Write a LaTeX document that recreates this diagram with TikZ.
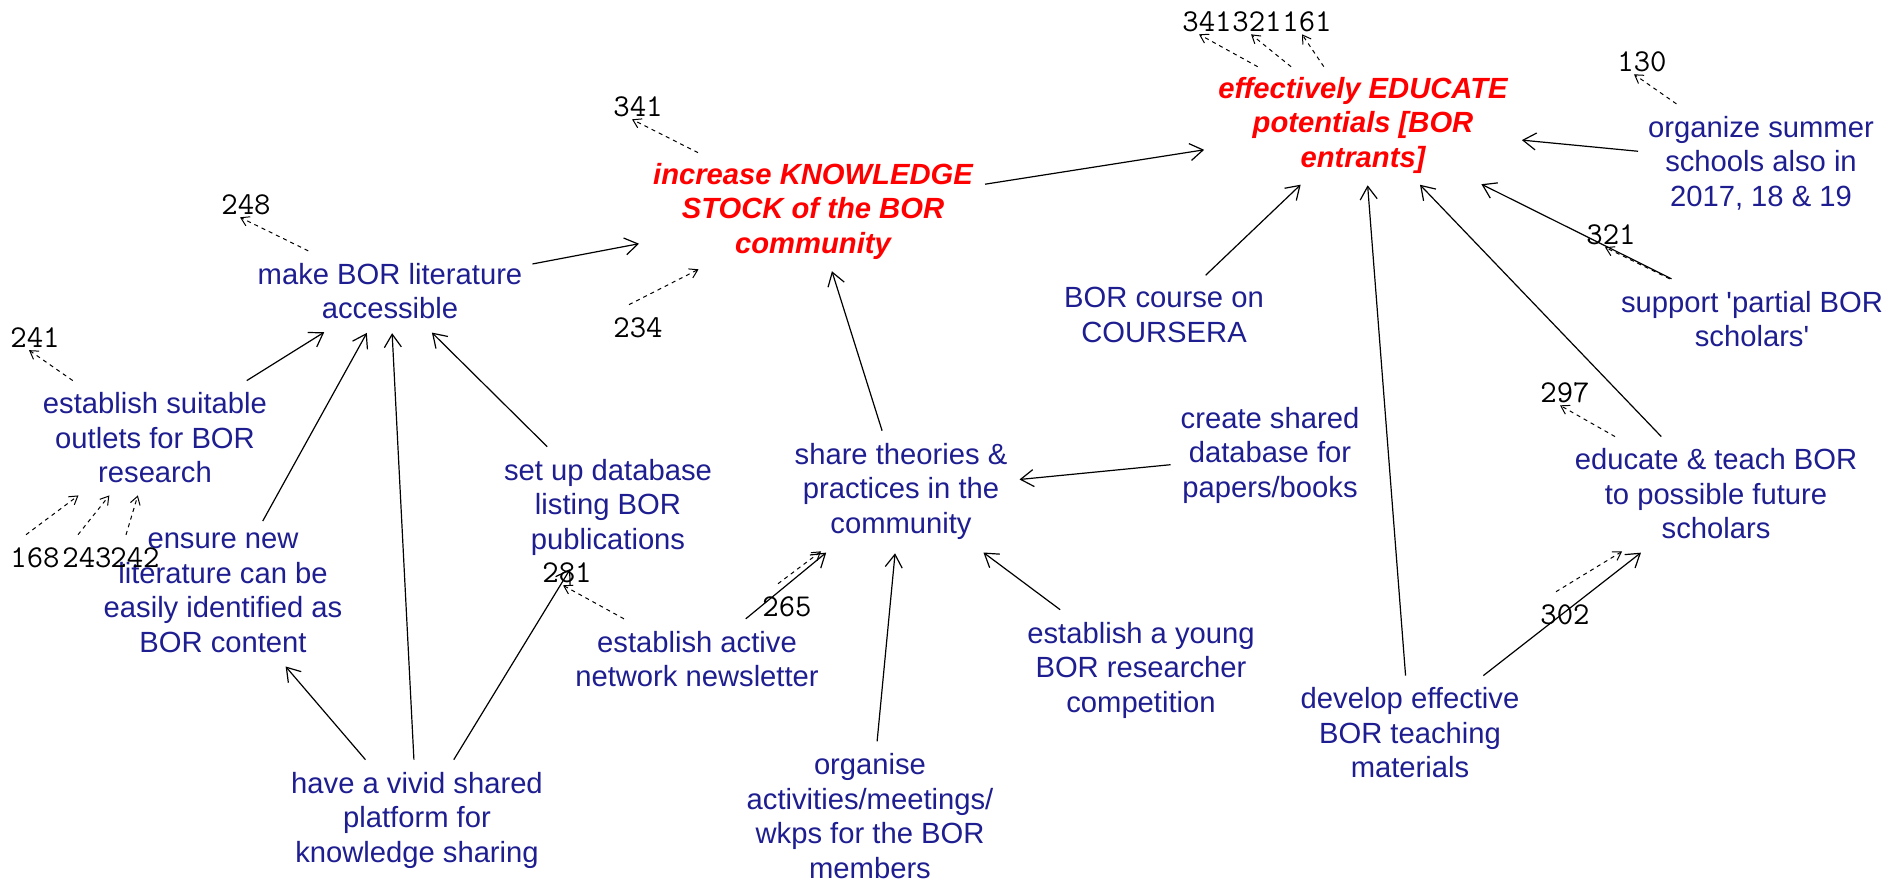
\documentclass[tikz,border=0pt]{standalone}
\usepackage{fontspec}
\setmainfont{Liberation Sans}
\usetikzlibrary{arrows.meta}
\definecolor{dblue}{RGB}{30,30,145}
\definecolor{cred}{RGB}{255,0,0}
\begin{document}
\begin{tikzpicture}[x=1pt,y=-1pt,
  txt/.style={align=center,text=dblue,font=\fontsize{29.2}{34.5}\selectfont,inner xsep=10pt,inner ysep=12pt},
  goal/.style={align=center,text=cred,font=\fontsize{29.2}{34.5}\selectfont\bfseries\itshape,inner xsep=12pt,inner ysep=10pt},
  num/.style={font=\ttfamily\fontsize{31.8}{32}\selectfont,inner sep=2pt,text=black},
  link/.style={-{Straight Barb[length=13pt,width=17pt]},line width=1.2pt,shorten >=2pt},
  dlink/.style={-{Straight Barb[length=8pt,width=10pt]},line width=1pt,dash pattern=on 4pt off 4pt}]
\useasboundingbox[fill=white] (0,0) rectangle (1891,884);

% concept nodes
\node[goal] (K) at (813,211) {increase KNOWLEDGE\\STOCK of the BOR\\community};
\node[goal] (E) at (1363,125) {effectively EDUCATE\\potentials [BOR\\entrants]};
\node[txt] (M) at (390,291) {make BOR literature\\accessible};
\node[txt] (S) at (155,438) {establish suitable\\outlets for BOR\\research};
\node[txt] (N) at (223,593) {ensure new\\literature can be\\easily identified as\\BOR content};
\node[txt] (V) at (417,820) {have a vivid shared\\platform for\\knowledge sharing};
\node[txt] (D) at (608,507) {set up database\\listing BOR\\publications};
\node[txt] (A) at (697,659) {establish active\\network newsletter};
\node[txt] (T) at (901,491) {share theories \&\\practices in the\\community};
\node[txt] (C) at (1270,455) {create shared\\database for\\papers/books};
\node[txt] (G) at (870,816) {organise\\activities/meetings/\\wkps for the BOR\\members};
\node[txt] (Y) at (1141,670) {establish a young\\BOR researcher\\competition};
\node[txt] (L) at (1410,733) {develop effective\\BOR teaching\\materials};
\node[txt] (H) at (1716,494) {educate \& teach BOR\\to possible future\\scholars};
\node[txt] (B) at (1164,315) {BOR course on\\COURSERA};
\node[txt] (O) at (1761,163) {organize summer\\schools also in\\2017, 18 \& 19};
\node[txt] (P) at (1752,319) {support \textquotesingle partial BOR\\scholars\textquotesingle};

% reference numbers
\node[num] (k341) at (638,107) {341};
\node[num] (k234) at (638,328) {234};
\node[num] (m248) at (246,205) {248};
\node[num] (s241) at (35,338) {241};
\node[num] (s168) at (35,558) {168};
\node[num] (s243) at (87,558) {243};
\node[num] (s242) at (135,558) {242};
\node[num] (a281) at (567,573) {281};
\node[num] (t265) at (787,607) {265};
\node[num] (e341) at (1207,22) {341};
\node[num] (e321) at (1257,22) {321};
\node[num] (e161) at (1307,22) {161};
\node[num] (o130) at (1642,62) {130};
\node[num] (p321) at (1611,235) {321};
\node[num] (h297) at (1565,393) {297};
\node[num] (h302) at (1565,615) {302};

% solid links
\draw[link] (M) -- (K);
\draw[link] (K) -- (E);
\draw[link] (S) -- (M);
\draw[link] (N) -- (M);
\draw[link] (V) -- (M);
\draw[link] (D) -- (M);
\draw[link] (V) -- (N);
\draw[link] (V) -- (D);
\draw[link] (T) -- (K);
\draw[link] (A) -- (T);
\draw[link] (G) -- (T);
\draw[link] (Y) -- (T);
\draw[link] (C) -- (T);
\draw[link] (B) -- (E);
\draw[link] (L) -- (E);
\draw[link] (H) -- (E);
\draw[link] (P) -- (E);
\draw[link] (O) -- (E);
\draw[link] (L) -- (H);

% dashed links to / from numbered concepts
\draw[dlink] (K) -- ([xshift=-6pt]k341.south);
\draw[dlink] ([xshift=-9pt,yshift=11pt]k234.north) -- (K);
\draw[dlink] (M) -- ([xshift=-6pt]m248.south);
\draw[dlink] (S) -- ([xshift=-6pt]s241.south);
\draw[dlink] ([xshift=-9pt,yshift=11pt]s168.north) -- (S);
\draw[dlink] ([xshift=-9pt,yshift=11pt]s243.north) -- (S);
\draw[dlink] ([xshift=-9pt,yshift=11pt]s242.north) -- (S);
\draw[dlink] (A) -- ([xshift=-4pt]a281.south);
\draw[dlink] ([xshift=-9pt,yshift=11pt]t265.north) -- (T);
\draw[dlink] (E) -- ([xshift=-8pt]e341.south);
\draw[dlink] (E) -- ([xshift=-6pt]e321.south);
\draw[dlink] (E) -- ([xshift=-5pt]e161.south);
\draw[dlink] (O) -- ([xshift=-8pt]o130.south);
\draw[dlink] (P) -- ([xshift=-6pt]p321.south);
\draw[dlink] (H) -- ([xshift=-5pt]h297.south);
\draw[dlink] ([xshift=-9pt,yshift=11pt]h302.north) -- (H);
\end{tikzpicture}
\end{document}
